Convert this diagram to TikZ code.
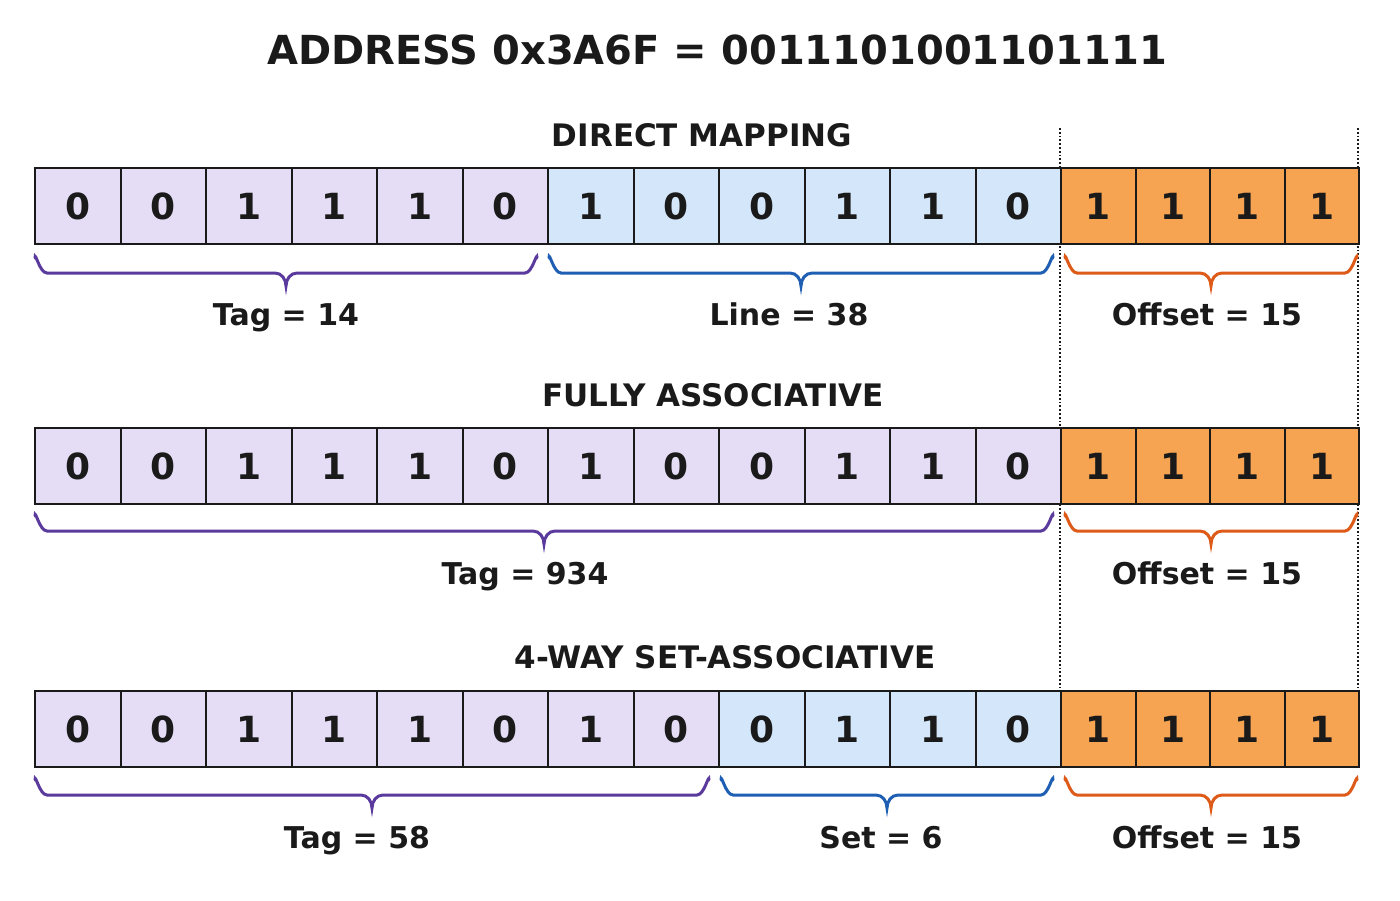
\documentclass[tikz,border=0pt]{standalone}
\usepackage{fontspec}
\setmainfont{DejaVu Sans}
\definecolor{pfill}{HTML}{E5DCF6}
\definecolor{bfill}{HTML}{D4E7FA}
\definecolor{ofill}{HTML}{F6A352}
\definecolor{pbr}{HTML}{5A3A9C}
\definecolor{bbr}{HTML}{1F5FB3}
\definecolor{obr}{HTML}{DD5A18}
\definecolor{ink}{HTML}{1A1A1A}
\newcommand\mybrace[4]{%
  \pgfmathsetmacro\xm{(#1+#2)/2}
  \draw[#4,line width=3pt,line cap=round]
    (#1,#3) to[out=90,in=180] (#1+12,#3+15) -- (\xm-11,#3+15)
    to[out=0,in=90] (\xm,#3+28) to[out=90,in=180] (\xm+11,#3+15)
    -- (#2-12,#3+15) to[out=0,in=90] (#2,#3);}
\begin{document}
\begin{tikzpicture}[x=1pt,y=-1pt,
  cell/.style={draw=ink,line width=2.2pt,minimum height=76pt,inner sep=0pt,
    font=\fontsize{36}{40}\selectfont\bfseries,text=ink,anchor=north west},
  ttl/.style={font=\fontsize{31}{36}\selectfont\bfseries,text=ink,anchor=base},
  lbl/.style={font=\fontsize{30}{34}\selectfont\bfseries,text=ink,anchor=base}]
\useasboundingbox[fill=white] (0,0) rectangle (1400,900);
\node[font=\fontsize{40}{46}\selectfont\bfseries,text=ink,anchor=base] (title) at (717,64) {ADDRESS 0x3A6F = 0011101001101111};
\draw[ink,line width=1.8pt,dotted] (1060,128) -- (1060,690);
\draw[ink,line width=1.8pt,dotted] (1358,128) -- (1358,690);
\def\bits{0,0,1,1,1,0,1,0,0,1,1,0,1,1,1,1}
\foreach \r/\yt/\np in {1/167/6, 2/427/12, 3/690/8}{
  \foreach \b [count=\i] in \bits {
    \ifnum\i>12
      \pgfmathsetmacro\xx{1060+74.5*(\i-13)}
      \node[cell,fill=ofill,minimum width=74.5pt] (r\r c\i) at (\xx,\yt) {\b};
    \else
      \pgfmathsetmacro\xx{34+85.5*(\i-1)}
      \ifnum\i>\np
        \node[cell,fill=bfill,minimum width=85.5pt] (r\r c\i) at (\xx,\yt) {\b};
      \else
        \node[cell,fill=pfill,minimum width=85.5pt] (r\r c\i) at (\xx,\yt) {\b};
      \fi
    \fi
  }
}
\node[ttl] (t1) at (702,146) {DIRECT MAPPING};
\node[ttl] (t2) at (713,406) {FULLY ASSOCIATIVE};
\node[ttl] (t3) at (725,668) {4-WAY SET-ASSOCIATIVE};
\mybrace{35}{537}{258}{pbr}
\mybrace{549}{1053}{258}{bbr}
\mybrace{1065}{1357}{258}{obr}
\node[lbl] (l1a) at (286,325) {Tag = 14};
\node[lbl] (l1b) at (789,325) {Line = 38};
\node[lbl] (l1c) at (1207,325) {Offset = 15};
\mybrace{35}{1053}{516}{pbr}
\mybrace{1065}{1357}{516}{obr}
\node[lbl] (l2a) at (525,584) {Tag = 934};
\node[lbl] (l2c) at (1207,584) {Offset = 15};
\mybrace{35}{709}{780}{pbr}
\mybrace{721}{1053}{780}{bbr}
\mybrace{1065}{1357}{780}{obr}
\node[lbl] (l3a) at (357,848) {Tag = 58};
\node[lbl] (l3b) at (881,848) {Set = 6};
\node[lbl] (l3c) at (1207,848) {Offset = 15};
\end{tikzpicture}
\end{document}
